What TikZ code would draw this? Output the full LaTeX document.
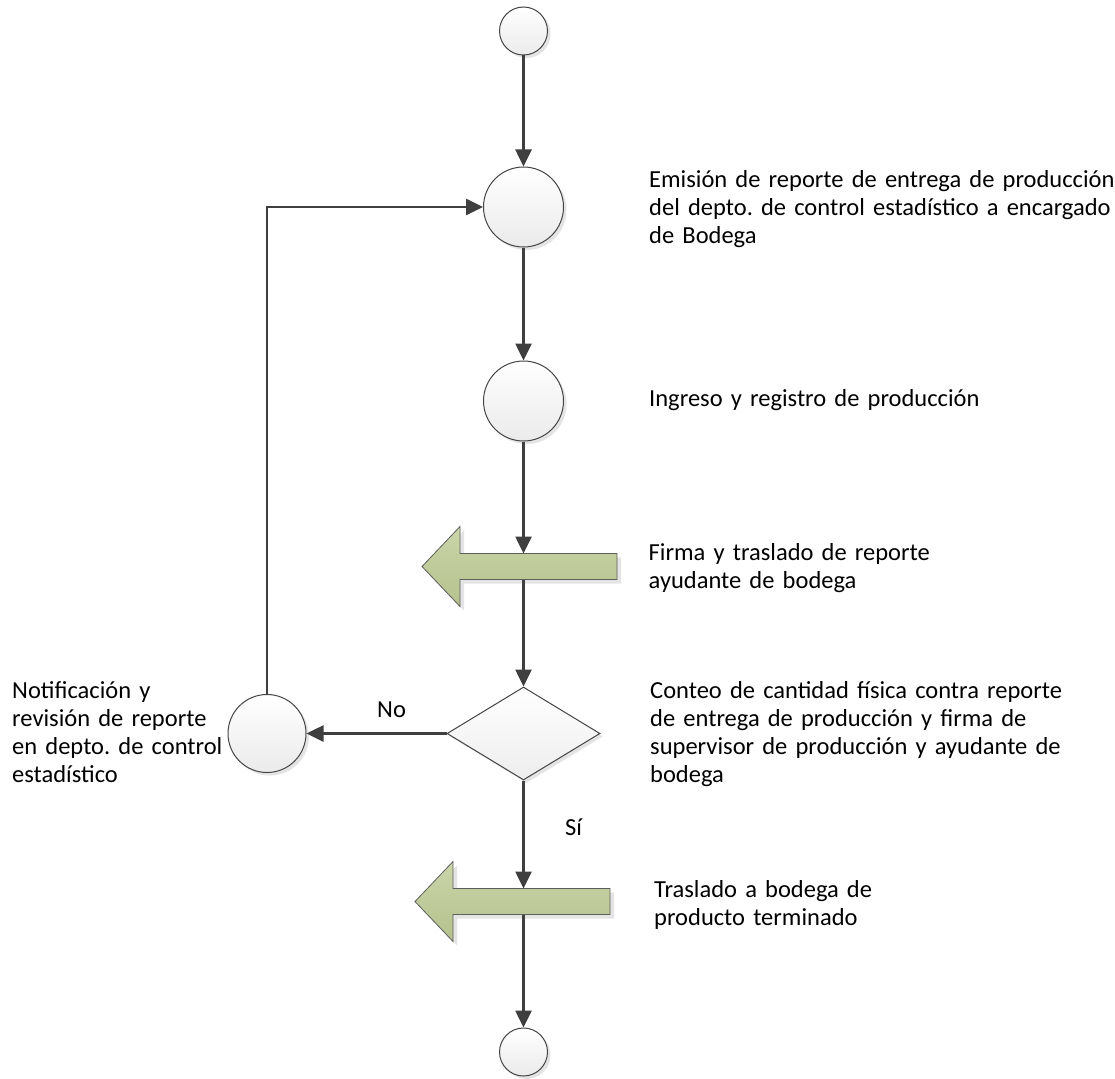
\documentclass[tikz,border=0pt]{standalone}
\usepackage{fontspec}
\setmainfont{Carlito}
\usetikzlibrary{arrows.meta,shapes.geometric,shadows}
\frenchspacing

\definecolor{linegray}{HTML}{3F3F3F}
\definecolor{edgegray}{HTML}{454545}
\definecolor{shadowgray}{HTML}{E4E4E4}
\definecolor{leafgreen}{HTML}{BECB94}
\definecolor{leafedge}{HTML}{5E5E5E}

\tikzset{
  % left-pointing block arrow; origin at the tip
  leftflow/.pic={
    \fill[shadowgray] (4,4) -- (42,-36) -- (42,-9) -- (199,-9) -- (199,17)
      -- (42,17) -- (42,44) -- cycle;
    \draw[leafedge, line width=0.8pt, top color=leafgreen!80!white, bottom color=leafgreen!95!black]
      (0,0) -- (38,-40) -- (38,-13) -- (195,-13) -- (195,13)
      -- (38,13) -- (38,40) -- cycle;
    \coordinate (-top) at (97,-13);
    \coordinate (-bottom) at (97,13);
  }
}

\begin{document}
\begin{tikzpicture}[x=1pt,y=-1pt,
  conn/.style={draw=linegray, line width=2.6pt,
    -{Triangle[length=17pt,width=16pt]}},
  event/.style={circle, draw=edgegray, line width=1pt, inner sep=0pt,
    top color=white, bottom color=black!8,
    drop shadow={shadow xshift=3pt, shadow yshift=-3pt, fill=shadowgray, opacity=1}},
  decision/.style={diamond, draw=edgegray, line width=1pt, inner sep=0pt,
    minimum width=153pt, minimum height=93pt,
    top color=white, bottom color=black!7,
    drop shadow={shadow xshift=3pt, shadow yshift=-3pt, fill=shadowgray, opacity=1}},
  caption/.style={anchor=base west, inner sep=0pt, align=left, text width=520pt,
    font=\fontsize{24.5}{28.3}\selectfont},
  tag/.style={anchor=base west, inner sep=0pt, font=\fontsize{24.5}{28.3}\selectfont}
]
\path[use as bounding box, fill=white] (0,0) rectangle (1115,1078);

% events along the main flow
\node[event, minimum size=48pt] (c0) at (523.5,31) {};
\node[event, minimum size=80pt] (c1) at (523.5,207) {};
\node[event, minimum size=80pt] (c2) at (523.5,401) {};
\pic (g1) at (422,566.5) {leftflow};
\node[decision] (d) at (523.5,733.5) {};
\node[event, minimum size=78pt] (cl) at (267,733.5) {};
\pic (g2) at (415,901.5) {leftflow};
\node[event, minimum size=48pt] (c3) at (523.5,1052) {};

% connectors
\draw[conn] (c0) -- (c1);
\draw[conn] (c1) -- (c2);
\draw[conn] (c2.south) -- (c2.south |- g1-top);
\draw[conn] (c2.south |- g1-bottom) -- (d.north);
\draw[conn] (d.south) -- (d.south |- g2-top);
\draw[conn] (d.south |- g2-bottom) -- (c3.north);
\draw[conn] (d.west) -- (cl.east);
\draw[conn] (cl.north) |- (c1.west);

% branch labels
\node[tag] (no) at (377,717) {No};
\node[tag] (si) at (565,835) {Sí};

% step descriptions
\node[caption] (t1) at (649,187) {Emisión de reporte de entrega de producción\\del depto. de control estadístico a encargado\\de Bodega};
\node[caption] (t2) at (649,406) {Ingreso y registro de producción};
\node[caption] (t3) at (648.5,560) {Firma y traslado de reporte\\ayudante de bodega};
\node[caption] (t4) at (650,698) {Conteo de cantidad física contra reporte\\de entrega de producción y firma de\\supervisor de producción y ayudante de\\bodega};
\node[caption] (t5) at (12,698) {Notificación y\\revisión de reporte\\en depto. de control\\estadístico};
\node[caption] (t6) at (654,897) {Traslado a bodega de\\producto terminado};
\end{tikzpicture}
\end{document}
